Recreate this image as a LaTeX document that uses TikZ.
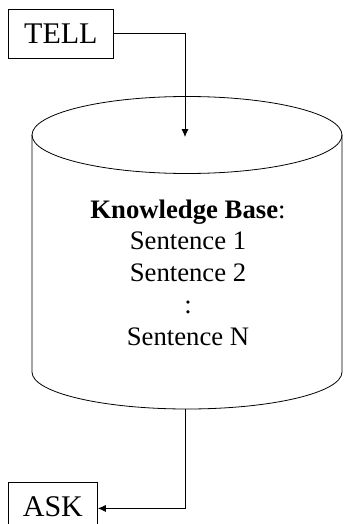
\documentclass[tikz,border=0pt]{standalone}
\usepackage{fontspec}
\setmainfont{Liberation Serif}
\usetikzlibrary{arrows.meta}
\begin{document}
\begin{tikzpicture}[x=1pt,y=-1pt,
  line/.style={line width=0.8pt},
  boxnode/.style={draw, line width=0.8pt, font=\fontsize{30}{34}\selectfont, minimum width=89pt, minimum height=49pt, inner sep=0pt, anchor=north west},
  arr/.style={line, -{Latex[length=8pt,width=7pt]}}]
\useasboundingbox (0,0) rectangle (344,524);
% cylinder
\draw[line] (187,135) ellipse [x radius=155, y radius=38.5];
\draw[line] (32,135) -- (32,372) arc[start angle=180, end angle=360, x radius=155, y radius=-37] -- (342,135);
% nodes
\node[boxnode, minimum width=105pt] (tell) at (8,9) {TELL};
\node[boxnode] (ask) at (8,482) {ASK};
\node[align=center, inner sep=0pt, font=\fontsize{26.7}{31.7}\selectfont] (kb) at (188,272.5)
  {\textbf{Knowledge Base}:\\Sentence 1\\Sentence 2\\:\\Sentence N};
\coordinate (top) at (185,137);
\coordinate (bot) at (185,409);
\draw[arr] (tell.east) -| (top);
\draw[arr] (bot) |- ([yshift=-1.5pt]ask.east);
\end{tikzpicture}
\end{document}
